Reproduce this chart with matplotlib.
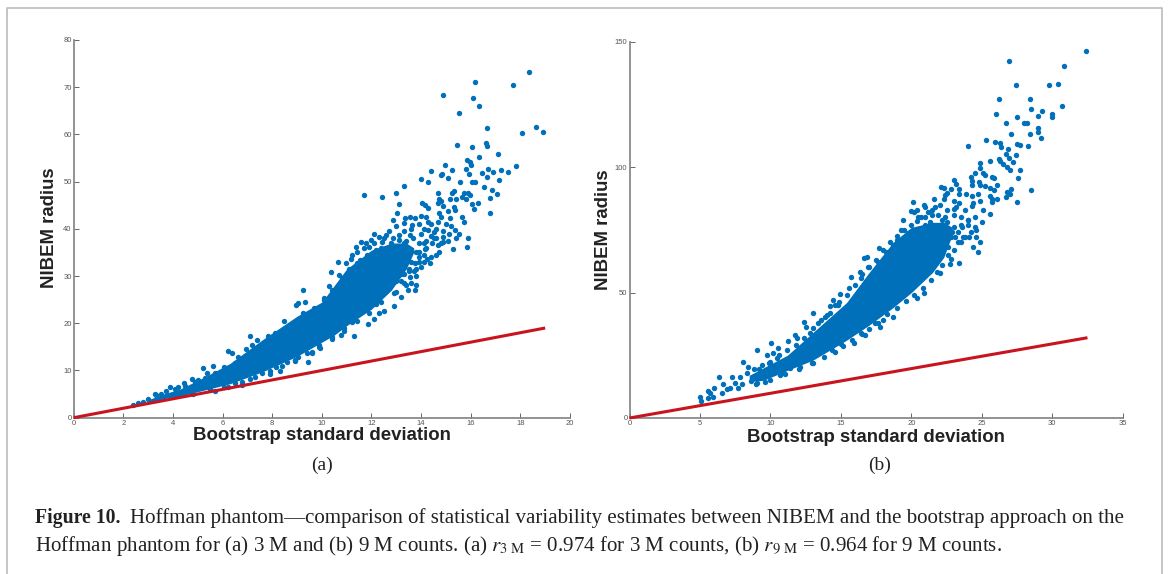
import matplotlib
matplotlib.use("Agg")
import matplotlib.pyplot as plt
from matplotlib.lines import Line2D

W, H = 1168, 574
BLUE = "#0070BA"
RED = "#C8141E"
GREY = "#808080"

plt.rcParams["mathtext.fontset"] = "stix"

# --- panel (a), 3M counts ---
a_x_ticks = [0, 2, 4, 6, 8, 10, 12, 14, 16, 18, 20]
a_y_ticks = [0, 10, 20, 30, 40, 50, 60, 70, 80]
a_line_x = [0, 19]
a_line_y = [0, 19]

# the middle of the cloud is solid blue in the reference, single dots can't be read there,
# so it is drawn as an envelope read off the picture and the readable dots go on top
a_core_x = [3, 3.6, 4.3, 5.3, 6.3, 7.6, 9, 10, 10.5, 11, 12, 12.8, 13.4, 13.7]
a_core_lo = [3, 4, 4.6, 5.9, 7.2, 9.7, 13, 16, 17.5, 19.5, 23, 27, 31.5, 35]
a_core_hi = [3.8, 5, 6.1, 8.7, 11.5, 16.5, 21.5, 24.5, 28, 31.5, 35.5, 37, 37, 36]

a_x = [18.33, 16.17, 17.7, 14.88, 16.11, 16.32, 15.54, 16.67, 18.62, 18.93, 18.05, 15.45, 16.05, 16.6, 16.64,
       17.09, 16.35, 15.86, 15.98, 16.0, 14.97, 17.84, 15.8, 16.71, 17.2, 15.23, 14.38, 17.52, 14.85, 14.8,
       16.46, 16.89, 15.95, 15.08, 13.99, 16.67, 17.15, 14.28, 15.57, 16.05, 16.17, 13.32, 16.55, 16.86, 12.97,
       17.07, 11.71, 12.43, 16.79, 14.67, 15.32, 15.23, 15.17, 15.42, 15.65, 15.72, 15.87, 15.98, 15.8, 14.71,
       14.79, 14.89, 14.67, 16.29, 16.05, 16.14, 16.79, 13.09, 14.02, 14.14, 14.26, 15.32, 15.38, 15.08, 13.03,
       15.65, 15.74, 15.17, 14.82, 14.74, 13.35, 13.54, 13.77, 13.99, 14.19, 14.26, 12.87, 13.32, 13.62,
       12.09, 12.57, 12.49, 11.56, 11.77, 11.37, 11.89, 12.12, 12.42, 12.87, 13.09, 13.32, 13.54, 13.69, 13.99,
       14.29, 14.52, 14.89, 15.12, 15.35, 15.54, 15.89, 15.83, 15.29, 14.74, 14.67, 14.89, 14.44, 14.14, 14.37,
       14.22, 13.92, 13.77, 13.54, 13.81, 13.81, 13.39, 13.77, 13.47, 12.99, 10.65, 10.99, 10.36, 10.69, 10.29,
       9.23, 11.17, 11.52, 12.04, 12.8, 13.17, 13.4, 13.6, 13.0, 13.2, 12.7, 12.4, 13.5, 13.9, 14.1, 14.5, 14.6,
       12.91, 12.52, 12.31, 12.12, 11.85, 11.31, 10.77, 9.94, 9.59, 9.46, 9.04, 8.32, 8.14, 7.09, 6.49, 6.04,
       9.04, 8.96, 9.31, 9.26, 8.48, 7.09, 7.17, 6.94, 6.22, 6.37, 5.62, 5.21, 5.36, 4.46, 4.76, 3.87, 3.26,
       2.81, 2.39, 7.84, 6.64, 6.04, 5.0, 4.2, 3.5, 3.0, 2.6, 7.4, 8.1, 8.7, 9.5, 10.1, 10.5, 11.0, 11.5, 12.0,
       12.4, 5.7, 6.8, 7.9, 8.9, 9.9, 10.9, 11.9, 12.6, 13.0, 13.2, 12.2, 11.2, 10.4, 9.6, 8.6, 7.6]
a_y = [73.2, 71.2, 70.4, 68.4, 67.8, 66, 64.5, 61.3, 61.6, 60.6, 60.2, 57.7, 57.3, 58.1, 57.6,
       55.8, 55.2, 54.6, 54.2, 53.6, 53.5, 53.4, 52.7, 52.7, 52.5, 52.4, 52.3, 52, 51.7, 51.4,
       51.8, 52, 51.6, 50.8, 50.5, 50.9, 50.4, 50, 50, 50, 50, 49.1, 48.9, 48.3, 47.6,
       47.4, 47.1, 46.7, 46.6, 47.5, 48.1, 47.5, 46.3, 46.4, 46.8, 47.5, 47.6, 47.2, 46.4, 46.3,
       45.8, 44.8, 45.4, 45.5, 45.2, 44.2, 43.4, 45.3, 45.4, 45, 44.5, 44.6, 44, 43.7, 43.3,
       42.6, 41.5, 42.2, 42.6, 43.3, 42.4, 42.6, 42.2, 42.7, 42.6, 41.5, 41.9, 41.2, 40.8,
       39, 38.7, 38, 37.3, 37.1, 36.2, 36.1, 36.9, 37.3, 38, 37.6, 36.9, 38.7, 38, 39,
       39.7, 39.4, 38.3, 39, 39.7, 39, 38, 36.2, 35.7, 35, 36.6, 37.3, 36.9, 35.8, 32.7,
       33.7, 34.1, 32.7, 29.9, 30, 28.1, 28.1, 27, 27, 26.7, 33, 32.7, 30.8, 30.2, 28,
       27, 33.7, 33.4, 34.1, 34.1, 35.5, 34, 33, 32, 30.5, 31, 33, 31, 35, 37, 38, 40,
       23.7, 22.5, 22.1, 20.9, 19.9, 17.2, 17.5, 14.7, 13.8, 11.9, 12.9, 9.8, 10.8, 8.3, 7.3, 6.6,
       24.2, 23.9, 24.6, 22.1, 20.4, 17.2, 15.4, 14.5, 14.1, 13.8, 11, 10.5, 9.4, 7.3, 8.1, 6.4, 5,
       3.4, 2.7, 17.2, 12.9, 10.8, 8, 6.4, 5.1, 3.9, 3.1, 16.5, 18, 19.6, 21.5, 25, 27, 29.5, 31, 33,
       36, 5.6, 7, 9.2, 12, 15.5, 19, 23.5, 27, 29, 25.5, 24, 20.3, 17, 14, 11.8, 9.4]

# dots along the rim of the solid part and in the loose top of the cloud
a_rim_x = [3.3, 3.7, 4.1, 4.5, 4.9, 5.3, 5.7, 6.1, 6.5, 6.9, 7.3, 7.7, 8.1, 8.5, 8.9, 9.3, 9.7, 10.1, 10.4, 10.8,
           11.1, 11.4, 11.8, 12.2, 4.8, 5.5, 6.2, 6.8, 7.3, 7.9, 8.4, 8.9, 9.4, 9.9, 10.4, 10.9, 11.4, 11.9, 12.4,
           12.9, 13.3, 13.7, 13.9, 12.7, 13.0, 13.3, 13.6, 13.9, 14.1, 14.4, 14.7, 15, 15.2, 14.6, 14.2, 13.9,
           14.8, 15.1, 15.4, 14.9, 14.4, 13.4, 13.1, 12.8, 12.3, 12.0, 11.7, 11.4, 11.2, 14.6, 14.4, 14.1, 13.8,
           14.2, 13.6, 14.0, 14.1, 13.8, 13.5, 13.3, 13.6, 13.2]
a_rim_y = [4.8, 5.6, 6, 6.8, 7.5, 8.5, 9.5, 10.3, 11.6, 13, 14.5, 15.8, 17.2, 18.5, 20, 21.5, 23.3, 25.3, 27, 29.5,
           31.5, 32.8, 34.5, 35.5, 5, 6, 6.6, 7.6, 8.7, 9.8, 11, 12.3, 13.6, 15, 16.6, 18.3, 20.5, 22.2, 24.5,
           26.5, 28.5, 31, 33, 39.5, 40.5, 39.5, 40, 41, 40, 41, 41.5, 41, 40.5, 38, 37.5, 37,
           37, 37.5, 38, 39.5, 38.5, 37.5, 38.7, 37, 38.2, 37.6, 36, 35, 34.5, 34.5, 34, 34.5, 35,
           36, 35.5, 32, 33, 31.5, 31.5, 30.5, 28.5, 29]

# --- panel (b), 9M counts ---
b_x_ticks = [0, 5, 10, 15, 20, 25, 30, 35]
b_y_ticks = [0, 50, 100, 150]
b_line_x = [0, 32.5]
b_line_y = [0, 32]

b_core_x = [8.5, 9.5, 11.2, 13, 15.4, 17, 18.7, 20, 21.5, 22.3, 22.9]
b_core_lo = [14.5, 15, 19, 23, 31, 37, 44, 50, 58, 64, 73]
b_core_hi = [17, 20, 25, 34, 46, 58, 70, 76, 78, 78, 76]

b_x = [32.4, 26.9, 30.8, 27.4, 29.8, 30.4, 26.2, 28.4, 30.7, 28.5, 29.3, 26, 27.5, 29, 30, 29.95, 26.7, 28, 28.2,
       29, 29, 27.1, 28.4, 29.2, 25.3, 24, 25.95, 26.3, 26.35, 27.5, 27.7, 28.25, 26.85, 26.7, 27.4, 26.9, 26.2,
       26.3, 27.2, 25.6, 24.9, 26.5, 26.8, 27, 24.9, 27.7, 24.5, 25.1, 25.2, 24.2, 25.7, 25.9, 27.6, 23, 24.3,
       24.8, 24.9, 24.3, 26.1, 22.1, 22.3, 25.2, 25.6, 27.1, 28.5, 23.2, 22.85, 23.4, 25.9, 22.5, 22.4, 26.8, 27,
       23.4, 23.9, 24.3, 24.7, 26.7, 21.6, 22.3, 25.6, 25.7, 26.1, 25.7, 27.5, 20.1, 23, 23.4, 24.4, 24.9, 20.9,
       21.7, 23.2, 24.3, 20, 20.4, 21.2, 23, 23.8, 25.1, 25.6,
       5.0, 5.05, 5.6, 5.71, 5.6, 5.95, 6.02, 6.54, 6.61, 6.38, 7.3, 7.13, 7.49, 7.84, 8.08, 8.43, 9.07, 8.32, 8.67,
       9.03, 9.62, 9.78, 10.21, 10.04, 10.56, 11.27, 11.75, 11.86, 12.39, 12.53, 13.05, 13.88, 14.23, 14.47, 14.94,
       14.89, 15.72, 16.36, 16.48, 16.67, 16.83, 17.73, 17.66, 18.73, 19.25, 19.79, 20.43, 20.97, 23.41, 22.8, 22.75,
       22.04, 20.93, 20.38, 18.73, 17.78, 18.0, 17.43, 16.72, 16.48, 15.93, 15.18, 14.59, 12.93, 12.1, 11.39, 10.68,
       6.9, 7.7, 8.0, 8.6, 9.2, 9.9, 10.5, 10.9, 11.6, 12.2, 12.8, 13.4, 14.0, 14.6, 15.0, 15.6, 16.1, 16.9, 17.3,
       18.2, 19.0, 19.6, 20.1, 21.0, 21.4, 21.8, 22.2, 22.6, 23.1, 22.0, 21.5, 21.0, 20.5, 23.6, 24.0, 23.5, 22.9,
       22.4, 21.9, 21.3, 20.7, 19.4, 20.2, 24.6, 24.1]
b_y = [146.1, 142.4, 140.3, 132.9, 132.6, 133.1, 127.3, 127.3, 124.2, 123, 122.2, 121, 120.1, 120.5, 121.2, 120, 117.7, 117.5, 117.7,
       115.7, 114, 113.3, 113.1, 111.5, 111, 108.4, 110, 109.8, 108, 109.1, 108.8, 108.4, 107.2, 105.4, 104.8, 103.5, 103.1,
       102.3, 101.9, 102.6, 101.7, 101.1, 100, 99, 99.5, 98.7, 97.7, 97.8, 96.9, 96.1, 96.2, 95.5, 95.5, 94.8, 94.5,
       94.1, 93, 92.9, 92.8, 92.2, 91.8, 92.4, 91.8, 91.4, 90.9, 93.1, 91.3, 91.3, 90.9, 89.8, 88.9, 90, 89.2,
       89.2, 89.2, 88.5, 89.4, 88.2, 87.2, 87.2, 88.5, 87.2, 87.2, 86.1, 86.2, 86.2, 86.5, 85.9, 85.9, 86.5, 84.9,
       84.3, 84.3, 84.5, 82.5, 82.8, 82.3, 83.2, 82.9, 82.9, 81.2,
       8.5, 6.8, 10.9, 9.8, 7.85, 8.25, 12.1, 10.1, 13.4, 16.5, 16.5, 11.8, 13.8, 16.5, 22.5, 20.5, 27.1, 17.8, 16.5,
       13.8, 14.5, 25.1, 25.8, 29.8, 27.8, 30.7, 33.1, 31.8, 38.2, 36.2, 41.9, 40.4, 44.7, 47.1, 49.4,
       46.4, 56.1, 58.3, 57.4, 63.9, 64.1, 67.7, 62.3, 69, 75, 73.6, 78.6, 77, 61.9, 63.3, 61.3,
       57.7, 49.7, 47.7, 40.4, 36.2, 39.1, 37.8, 33.1, 33.5, 29.8, 28.7, 26.5, 22.1, 20.5, 19.8, 17.2,
       11.5, 12, 13.5, 14.8, 19.5, 22, 24, 18.5, 21.5, 28, 34, 38, 41, 45, 42, 52, 48, 60, 55,
       66, 71, 70, 75, 72, 76, 74, 79, 68, 72, 65, 69, 66, 62, 76, 79, 70, 74,
       80, 81, 78, 80, 79, 82, 75, 72]

b_rim_x = [8.8, 9.4, 10, 10.6, 11.2, 11.8, 12.4, 13, 13.6, 14.2, 14.8, 15.4, 16, 16.4, 17, 17.5, 18, 18.5, 19, 19.5,
           20, 20.5, 21, 21.5, 9, 10, 11, 12, 13, 13.8, 14.4, 15, 15.8, 16.4, 17, 17.6, 18.3, 19, 19.6, 20.2, 20.8,
           21.4, 21.8, 22.2, 22.6, 23, 23.3, 23.7, 21, 21.5, 22, 22.5, 23, 23.5, 24, 24.5, 25, 24.5, 24.2, 24.6,
           24.9, 22.5, 23, 23.5, 24, 23.8, 23.3, 22.8, 24.4, 24.7]
b_rim_y = [19.5, 21, 22.5, 25, 27, 29, 32, 36, 39, 42, 45, 49, 53, 56, 60, 63, 67, 70, 72.5, 75,
           77, 80, 80, 81, 13.5, 15, 17.5, 19.5, 22, 24.5, 27, 29.5, 31, 34, 35.5, 38, 41.5, 44, 46.5, 49, 52,
           55, 58, 61, 65, 67, 70, 72, 84, 83, 85, 83, 81, 80, 79, 80, 78, 76, 74, 72,
           70, 78, 76, 77, 77, 72, 74, 72, 68, 66]


def draw_panel(ax, core_x, core_lo, core_hi, x, y, line_x, line_y, x_ticks, y_ticks):
    ax.fill_between(core_x, core_lo, core_hi, color=BLUE, linewidth=0, zorder=2)
    ax.scatter(x, y, s=15, color=BLUE, linewidths=0, zorder=3, clip_on=False)
    ax.plot(line_x, line_y, color=RED, lw=2.2, zorder=4, clip_on=False, solid_capstyle="butt")
    ax.set_xlim(x_ticks[0], x_ticks[-1])
    ax.set_ylim(y_ticks[0], y_ticks[-1])
    ax.set_xticks(x_ticks)
    ax.set_yticks(y_ticks)
    ax.spines["top"].set_visible(False)
    ax.spines["right"].set_visible(False)
    ax.spines["left"].set_color(GREY)
    ax.spines["bottom"].set_color(GREY)
    ax.spines["left"].set_linewidth(1.2)
    ax.spines["bottom"].set_linewidth(1.2)
    ax.tick_params(direction="in", length=3.5, width=0.7, color="#666666", labelcolor="#555555",
                   labelsize=5.5, pad=1.5)
    for lab in ax.get_xticklabels() + ax.get_yticklabels():
        lab.set_family("Liberation Sans")


def axes_px(fig, left, right, top, bottom):
    return fig.add_axes([left / W, 1 - bottom / H, (right - left) / W, (bottom - top) / H])


def label(fig, x, y, s, **kw):
    fig.text(x / W, 1 - y / H, s, va="center", **kw)


fig = plt.figure(figsize=(W / 100, H / 100), dpi=100, facecolor="white")

ax_a = axes_px(fig, 73.7, 570, 40, 417.7)
draw_panel(ax_a, a_core_x, a_core_lo, a_core_hi, a_x + a_rim_x, a_y + a_rim_y, a_line_x, a_line_y, a_x_ticks, a_y_ticks)
ax_b = axes_px(fig, 629.5, 1122.7, 41.7, 418)
draw_panel(ax_b, b_core_x, b_core_lo, b_core_hi, b_x + b_rim_x, b_y + b_rim_y, b_line_x, b_line_y, b_x_ticks, b_y_ticks)

sans = dict(family="Liberation Sans", fontweight="bold", fontsize=13.4, color="#222222", ha="center")
label(fig, 321.5, 436, "Bootstrap standard deviation", **sans)
label(fig, 876, 437, "Bootstrap standard deviation", **sans)
label(fig, 50, 228, "NIBEM radius", rotation=90, **sans)
label(fig, 603, 230, "NIBEM radius", rotation=90, **sans)

serif = dict(family="Liberation Serif", color="#222222")
label(fig, 322, 465, "(a)", fontsize=14, ha="center", **serif)
label(fig, 880, 465, "(b)", fontsize=14, ha="center", **serif)
label(fig, 35, 518, "Figure 10.", fontsize=14.2, fontweight="bold", ha="left", **serif)
label(fig, 130, 518, "Hoffman phantom\u2014comparison of statistical variability estimates between NIBEM and the bootstrap approach on the",
      fontsize=15.1, ha="left", **serif)
label(fig, 35, 546, r"Hoffman phantom for (a) 3 M and (b) 9 M counts. (a) $r_{3\ \mathrm{M}}$ = 0.974 for 3 M counts, (b) $r_{9\ \mathrm{M}}$ = 0.964 for 9 M counts.",
      fontsize=15.1, ha="left", **serif)

# grey frame round the figure, open at the bottom
frame_x = [7 / W, 7 / W, 1161.7 / W, 1161.7 / W]
frame_y = [0, 1 - 8 / H, 1 - 8 / H, 0]
fig.add_artist(Line2D(frame_x, frame_y, color="#BBBBBB", lw=1.2, transform=fig.transFigure))

fig.savefig("out.png", dpi=100)
